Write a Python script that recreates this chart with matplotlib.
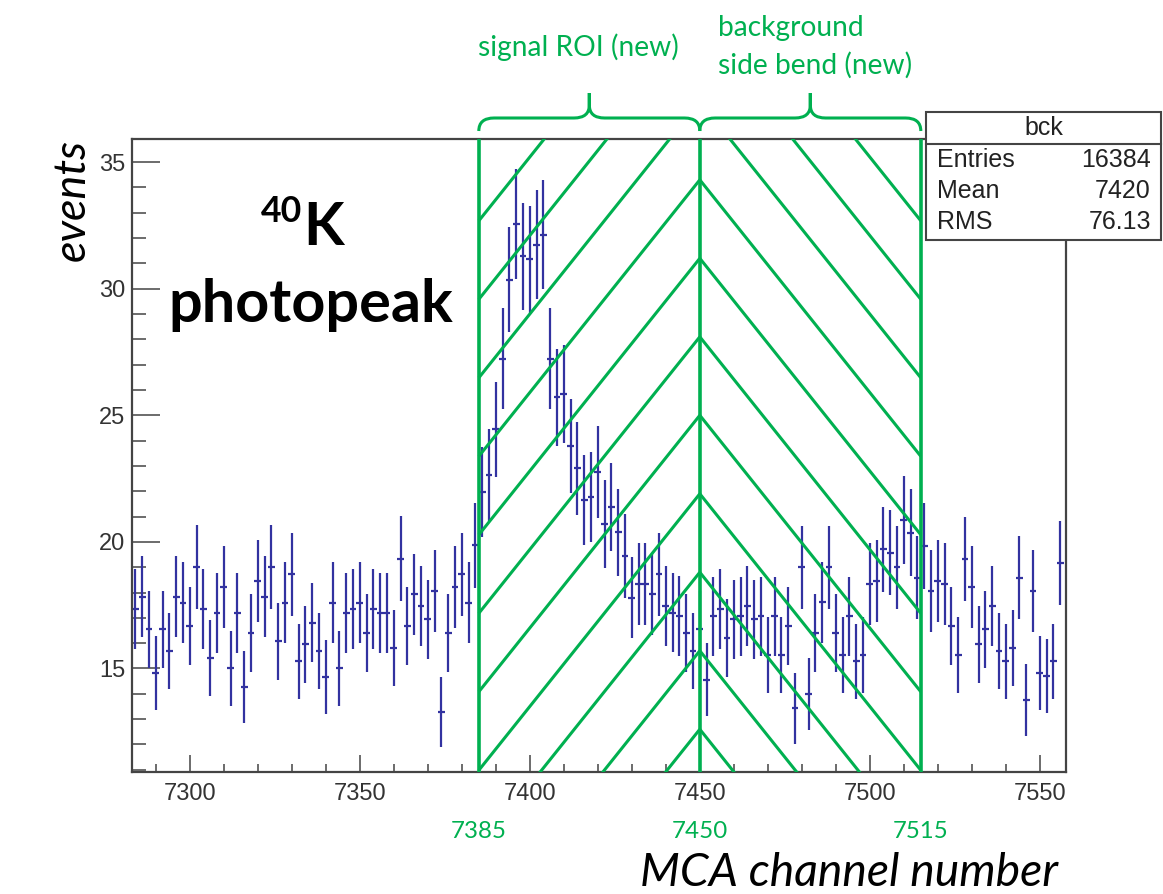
import numpy as np
import matplotlib
matplotlib.use("Agg")
import matplotlib.pyplot as plt
from matplotlib.path import Path
from matplotlib.patches import PathPatch, Rectangle
from matplotlib.lines import Line2D
from matplotlib.ticker import MultipleLocator, FixedLocator
import matplotlib.transforms as mtransforms

# ---------------- data ----------------
channel_start = 7284          # centre of first bin
bin_width = 2                 # channels per bin

counts = [
    17.34, 17.83, 16.54, 14.83, 16.54, 15.68, 17.83, 17.60, 16.68, 19.01,
    17.34, 15.42, 17.20, 18.22, 15.00, 17.20, 14.27, 16.42, 18.46, 17.83,
    19.01, 16.08, 17.60, 18.72, 15.29, 15.95, 16.80, 15.68, 14.67, 17.60,
    15.00, 17.20, 17.34, 17.60, 16.42, 17.34, 17.20, 17.20, 15.81, 19.34,
    16.68, 17.93, 17.47, 16.95, 18.06, 13.29, 16.42, 18.20, 18.72, 17.60,
    19.86,
    21.97, 22.63, 24.45, 27.24, 30.36, 32.55, 31.28, 31.16, 31.74, 32.14,
    27.24, 25.71, 25.84, 23.79, 22.90, 21.65, 21.78, 22.77, 20.70, 21.38,
    20.38, 19.45, 17.80, 18.33, 18.33, 17.93, 18.72, 17.47, 17.21, 17.08,
    16.42, 15.70,
    16.54, 14.56, 17.06, 17.33, 16.21, 16.95, 17.06, 17.46, 16.95, 17.06,
    15.55, 17.06, 15.55, 16.67, 13.42, 18.99, 14.01, 16.41, 17.61, 18.99,
    16.41, 15.55, 17.06, 15.29, 15.55, 18.33, 18.46, 19.71, 19.58, 18.99,
    20.86, 20.37, 18.59, 19.84,
    18.05, 18.45, 18.33, 16.67, 15.55, 19.32, 18.20, 15.95, 16.54, 17.46,
    15.68, 15.29, 15.81, 18.59, 13.75, 18.05, 14.83, 14.70, 15.29, 19.18,
]

errors = [
    1.58, 1.60, 1.54, 1.46, 1.54, 1.50, 1.60, 1.59, 1.55, 1.65,
    1.58, 1.49, 1.57, 1.62, 1.47, 1.57, 1.43, 1.54, 1.63, 1.60,
    1.65, 1.52, 1.59, 1.64, 1.48, 1.52, 1.56, 1.50, 1.45, 1.59,
    1.47, 1.57, 1.58, 1.59, 1.54, 1.58, 1.57, 1.57, 1.51, 1.67,
    1.55, 1.61, 1.59, 1.56, 1.61, 1.38, 1.54, 1.62, 1.64, 1.59,
    1.69,
    1.78, 1.81, 1.88, 1.98, 2.09, 2.17, 2.12, 2.12, 2.14, 2.15,
    1.98, 1.92, 1.93, 1.85, 1.82, 1.77, 1.77, 1.81, 1.73, 1.75,
    1.71, 1.67, 1.60, 1.62, 1.62, 1.61, 1.64, 1.59, 1.57, 1.57,
    1.54, 1.50,
    1.54, 1.45, 1.57, 1.58, 1.53, 1.56, 1.57, 1.59, 1.56, 1.57,
    1.50, 1.57, 1.50, 1.55, 1.39, 1.65, 1.42, 1.54, 1.59, 1.65,
    1.54, 1.50, 1.57, 1.48, 1.50, 1.62, 1.63, 1.68, 1.68, 1.65,
    1.73, 1.71, 1.64, 1.69,
    1.61, 1.63, 1.62, 1.55, 1.50, 1.67, 1.62, 1.52, 1.54, 1.59,
    1.50, 1.48, 1.51, 1.64, 1.41, 1.61, 1.46, 1.46, 1.48, 1.66,
]

roi_edges = [7385, 7450, 7515]
roi_labels = ["7385", "7450", "7515"]
xticks_major = [7300, 7350, 7400, 7450, 7500, 7550]
yticks_major = [15, 20, 25, 30, 35]

stats_title = "bck"
stats_names = ["Entries", "Mean", "RMS"]
stats_values = ["16384", "7420", "76.13"]

channels = channel_start + bin_width * np.arange(len(counts))

# ---------------- figure / layout ----------------
W, H = 1163, 894
fig = plt.figure(figsize=(W / 100, H / 100), dpi=100)
fig.patch.set_facecolor("white")


def fx(px):
    return px / W


def fy(py):
    return 1 - py / H


AX_L, AX_R, AX_T, AX_B = 132, 1066, 139.3, 772.3
ax = fig.add_axes([fx(AX_L), fy(AX_B), (AX_R - AX_L) / W, (AX_B - AX_T) / H])
ax.set_xlim(7283, 7557.7)
ax.set_ylim(10.9, 35.9)

GREEN = "#00b050"
BLUE = "#3232a0"
FRAME = "#444444"
TICKC = "#333333"

ax.errorbar(channels, counts, yerr=errors, xerr=bin_width / 2, fmt="none",
            ecolor=BLUE, elinewidth=1.6, capsize=0, zorder=2)

# frame & ticks (ROOT style)
for s in ax.spines.values():
    s.set_color(FRAME)
    s.set_linewidth(1.6)
ax.xaxis.set_major_locator(FixedLocator(xticks_major))
ax.xaxis.set_minor_locator(MultipleLocator(10))
ax.yaxis.set_major_locator(FixedLocator(yticks_major))
ax.yaxis.set_minor_locator(MultipleLocator(1))
ax.tick_params(axis="x", which="major", direction="in", length=12.5, width=1.1,
               color=FRAME, pad=8, labelsize=17, labelcolor=TICKC)
ax.tick_params(axis="x", which="minor", direction="in", length=6, width=1.1, color=FRAME)
ax.tick_params(axis="y", which="major", direction="in", length=20, width=1.1,
               color=FRAME, pad=5, labelsize=17, labelcolor=TICKC)
ax.tick_params(axis="y", which="minor", direction="in", length=10, width=1.1, color=FRAME)
for lab in ax.get_xticklabels() + ax.get_yticklabels():
    lab.set_fontfamily("Liberation Sans")

# ---------------- green hatched regions ----------------
hatch_apex_top = 43.6    # y of the highest chevron tip on the centre line
hatch_step = 3.1
hatch_slope = 0.168      # y-units per channel
half = roi_edges[1] - roi_edges[0]
for k in range(0, 14):
    apex = hatch_apex_top - k * hatch_step
    ax.plot([roi_edges[0], roi_edges[1]], [apex - hatch_slope * half, apex],
            color=GREEN, lw=2.2, zorder=3, solid_capstyle="butt")
    ax.plot([roi_edges[1], roi_edges[2]], [apex, apex - hatch_slope * half],
            color=GREEN, lw=2.2, zorder=3, solid_capstyle="butt")
for e in roi_edges:
    ax.axvline(e, color=GREEN, lw=2.6, zorder=4)

# ---------------- braces above the axes ----------------
blend = mtransforms.blended_transform_factory(ax.transData, ax.transAxes)
ax_h = AX_B - AX_T


def ay(py):
    return (AX_B - py) / ax_h


def brace(x0, x1, r=4.5):
    xm = 0.5 * (x0 + x1)
    ye, yh, yc = ay(131), ay(118), ay(93)
    dy = ay(105) - yh
    verts = [(x0, ye), (x0, yh), (x0 + r, yh), (xm - r, yh), (xm, yh), (xm, yh + dy),
             (xm, yc), (xm, yh + dy), (xm, yh), (xm + r, yh), (x1 - r, yh), (x1, yh), (x1, ye)]
    codes = [Path.MOVETO, Path.CURVE3, Path.CURVE3, Path.LINETO, Path.CURVE3, Path.CURVE3,
             Path.LINETO, Path.LINETO, Path.CURVE3, Path.CURVE3, Path.LINETO, Path.CURVE3, Path.CURVE3]
    p = PathPatch(Path(verts, codes), facecolor="none", edgecolor=GREEN, lw=2.2,
                  transform=blend, clip_on=False, zorder=5)
    ax.add_patch(p)


brace(roi_edges[0], roi_edges[1])
brace(roi_edges[1], roi_edges[2])

# ---------------- texts ----------------
renderer = fig.canvas.get_renderer()


def fit(t, target, vertical=False):
    bb = t.get_window_extent(renderer)
    w = bb.height if vertical else bb.width
    t.set_fontsize(t.get_fontsize() * target / w)
    return t.get_fontsize()


CAL = ["Lato", "DejaVu Sans"]

t_sig = fig.text(fx(578), fy(47), "signal ROI (new)", color=GREEN, family=CAL,
                 fontsize=18, ha="center", va="center")
fs_g = fit(t_sig, 200)
fig.text(fx(718), fy(28), "background", color=GREEN, family=CAL, fontsize=fs_g,
         ha="left", va="center")
fig.text(fx(718), fy(65), "side bend (new)", color=GREEN, family=CAL, fontsize=fs_g,
         ha="left", va="center")

for e, lab in zip(roi_edges, roi_labels):
    px = 700 + (e - 7450) * 3.4
    t = fig.text(fx(px), fy(831), lab, color=GREEN, family=CAL, fontsize=18,
                 ha="center", va="center")
    fit(t, 56)

t_ev = fig.text(fx(72), fy(200), "events", family=CAL, style="italic", fontsize=28,
                rotation=90, ha="center", va="center", color="black")
fit(t_ev, 122, vertical=True)

t_mca = fig.text(fx(640), fy(886), "MCA channel number", family=CAL, style="italic",
                 fontsize=30, ha="left", va="baseline", color="black")
fit(t_mca, 417)

t_ph = fig.text(fx(311), fy(322), "photopeak", family=CAL, weight="bold", fontsize=36,
                ha="center", va="baseline", color="black")
fs_ph = fit(t_ph, 284)
fig.text(fx(303), fy(245), "K", family=CAL, weight="bold", fontsize=fs_ph,
         ha="left", va="baseline", color="black")
fig.text(fx(302), fy(222), "40", family=CAL, weight="bold", fontsize=fs_ph * 0.6,
         ha="right", va="baseline", color="black")

# ---------------- stats box ----------------
BX0, BX1, BY0, BY1 = 926, 1161, 112, 240
box = Rectangle((fx(BX0), fy(BY1)), (BX1 - BX0) / W, (BY1 - BY0) / H,
                transform=fig.transFigure, facecolor="white", edgecolor=FRAME,
                lw=1.5, zorder=10)
fig.add_artist(box)
fig.add_artist(Line2D([fx(BX0), fx(BX1)], [fy(144), fy(144)], transform=fig.transFigure,
                      color=FRAME, lw=1.5, zorder=11))
SF = "Liberation Sans"
fig.text(fx((BX0 + BX1) / 2), fy(128), stats_title, family=SF, fontsize=18,
         ha="center", va="center", color="#222222", zorder=12)
for i, (n, v) in enumerate(zip(stats_names, stats_values)):
    yy = 160 + 31 * i
    fig.text(fx(937), fy(yy), n, family=SF, fontsize=18, ha="left", va="center",
             color="#222222", zorder=12)
    fig.text(fx(1151), fy(yy), v, family=SF, fontsize=18, ha="right", va="center",
             color="#222222", zorder=12)

fig.savefig("out.png", dpi=100)
